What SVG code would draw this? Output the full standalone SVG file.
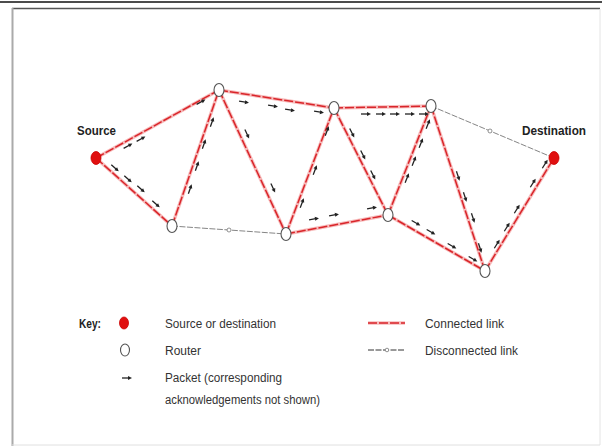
<svg xmlns="http://www.w3.org/2000/svg" width="605" height="448" viewBox="0 0 605 448">
<defs>
<style>
.txt{font-family:"Liberation Sans",Arial,sans-serif;fill:#333;font-size:12px}
.lbl{font-family:"Liberation Sans",Arial,sans-serif;fill:#222;font-size:12.5px;font-weight:bold}
.cbase{stroke:#f7bcbc;stroke-width:3.5;fill:none}
.cdash{stroke:#d9252a;stroke-width:1.5;fill:none;stroke-dasharray:9 2}
.disc{stroke:#777;stroke-width:0.9;fill:none;stroke-dasharray:6 1.5}
.dmark{fill:#fff;stroke:#777;stroke-width:0.8}
.router{fill:#fff;stroke:#555;stroke-width:1.1}
.term{fill:#e01010;stroke:#c00;stroke-width:0.8}
.pkt{stroke:#222;stroke-width:1.3;fill:none}
</style>
<g id="pk"><line class="pkt" x1="-5" y1="0" x2="3" y2="0"/><path d="M5,0 L1,-2 L1,2 Z" fill="#222"/></g>
</defs>
<rect width="605" height="448" fill="#fff"/>
<line x1="0" y1="2" x2="602" y2="2" stroke="#111" stroke-width="1.5"/>
<line x1="12" y1="8.5" x2="600" y2="8.5" stroke="#555" stroke-width="1.5"/>
<line x1="12.5" y1="8" x2="12.5" y2="446" stroke="#aaa" stroke-width="2"/>
<line x1="600" y1="9" x2="600" y2="445" stroke="#e4e4e4" stroke-width="1"/>
<line x1="12" y1="445" x2="600" y2="445" stroke="#e0e0e0" stroke-width="1"/>

<g id="connectors">
<g id="connected">
<path class="cbase" d="M96,158 L219,90 M96,158 L172,226 M172,226 L219,90 M219,90 L334,108 M219,90 L286,234 M286,234 L334,108 M286,234 L388,215 M334,108 L431,106 M334,108 L388,215 M388,215 L431,106 M388,215 L485,271 M431,106 L485,271 M485,271 L554,158"/>
<path class="cdash" d="M96,158 L219,90 M96,158 L172,226 M172,226 L219,90 M219,90 L334,108 M219,90 L286,234 M286,234 L334,108 M286,234 L388,215 M334,108 L431,106 M334,108 L388,215 M388,215 L431,106 M388,215 L485,271 M431,106 L485,271 M485,271 L554,158"/>
</g>
<g id="disconnected">
<path class="disc" d="M172,226 L286,234 M431,106 L554,158"/>
<circle class="dmark" cx="229" cy="230" r="2"/>
<circle class="dmark" cx="490" cy="131" r="2"/>
</g>
<g id="packets">
<use href="#pk" transform="translate(128,146) rotate(-29)"/>
<use href="#pk" transform="translate(141,139) rotate(-29)"/>
<use href="#pk" transform="translate(201,102) rotate(-29)"/>
<use href="#pk" transform="translate(115,168) rotate(42)"/>
<use href="#pk" transform="translate(128,179) rotate(42)"/>
<use href="#pk" transform="translate(141,189) rotate(42)"/>
<use href="#pk" transform="translate(156,204) rotate(42)"/>
<use href="#pk" transform="translate(212,122) rotate(-71)"/>
<use href="#pk" transform="translate(204,144) rotate(-71)"/>
<use href="#pk" transform="translate(197,166) rotate(-71)"/>
<use href="#pk" transform="translate(190,189) rotate(-71)"/>
<use href="#pk" transform="translate(244,102) rotate(9)"/>
<use href="#pk" transform="translate(273,106) rotate(9)"/>
<use href="#pk" transform="translate(290,110) rotate(9)"/>
<use href="#pk" transform="translate(319,112) rotate(9)"/>
<use href="#pk" transform="translate(247,134) rotate(65)"/>
<use href="#pk" transform="translate(273,188) rotate(65)"/>
<use href="#pk" transform="translate(302,203) rotate(-69)"/>
<use href="#pk" transform="translate(315,170) rotate(-69)"/>
<use href="#pk" transform="translate(327,131) rotate(-69)"/>
<use href="#pk" transform="translate(314,219) rotate(-10)"/>
<use href="#pk" transform="translate(334,215) rotate(-10)"/>
<use href="#pk" transform="translate(372,208) rotate(-10)"/>
<use href="#pk" transform="translate(366,114) rotate(0)"/>
<use href="#pk" transform="translate(381,114) rotate(0)"/>
<use href="#pk" transform="translate(395,114) rotate(0)"/>
<use href="#pk" transform="translate(410,114) rotate(0)"/>
<use href="#pk" transform="translate(424,114) rotate(0)"/>
<use href="#pk" transform="translate(352,133) rotate(63)"/>
<use href="#pk" transform="translate(363,155) rotate(63)"/>
<use href="#pk" transform="translate(373,175) rotate(63)"/>
<use href="#pk" transform="translate(428,124) rotate(-68)"/>
<use href="#pk" transform="translate(421,143) rotate(-68)"/>
<use href="#pk" transform="translate(414,161) rotate(-68)"/>
<use href="#pk" transform="translate(407,178) rotate(-68)"/>
<use href="#pk" transform="translate(416,223) rotate(30)"/>
<use href="#pk" transform="translate(431,232) rotate(30)"/>
<use href="#pk" transform="translate(452,246) rotate(30)"/>
<use href="#pk" transform="translate(473,259) rotate(30)"/>
<use href="#pk" transform="translate(458,176) rotate(72)"/>
<use href="#pk" transform="translate(465,197) rotate(72)"/>
<use href="#pk" transform="translate(473,218) rotate(72)"/>
<use href="#pk" transform="translate(480,248) rotate(72)"/>
<use href="#pk" transform="translate(497,244) rotate(-58)"/>
<use href="#pk" transform="translate(507,227) rotate(-58)"/>
<use href="#pk" transform="translate(517,209) rotate(-58)"/>
<use href="#pk" transform="translate(533,183) rotate(-58)"/>
<use href="#pk" transform="translate(545,164) rotate(-58)"/>
</g>
</g>

<g id="source"><ellipse class="term" cx="96" cy="158" rx="5" ry="6.5"/><text class="lbl" x="77" y="135" textLength="39" lengthAdjust="spacingAndGlyphs">Source</text></g>
<g id="r1"><ellipse class="router" cx="172" cy="226" rx="5" ry="6.5"/></g>
<g id="r2"><ellipse class="router" cx="219" cy="90" rx="5" ry="6.5"/></g>
<g id="r3"><ellipse class="router" cx="286" cy="234" rx="5" ry="6.5"/></g>
<g id="r4"><ellipse class="router" cx="334" cy="108" rx="5" ry="6.5"/></g>
<g id="r5"><ellipse class="router" cx="388" cy="215" rx="5" ry="6.5"/></g>
<g id="r6"><ellipse class="router" cx="431" cy="106" rx="5" ry="6.5"/></g>
<g id="r7"><ellipse class="router" cx="485" cy="271" rx="5" ry="6.5"/></g>
<g id="destination"><ellipse class="term" cx="554" cy="158" rx="5" ry="6.5"/><text class="lbl" x="522" y="135" textLength="64" lengthAdjust="spacingAndGlyphs">Destination</text></g>

<g id="key">
<text class="txt" x="79" y="328" textLength="22" lengthAdjust="spacingAndGlyphs" style="fill:#222;font-weight:bold">Key:</text>
<ellipse class="term" cx="124" cy="323" rx="4.5" ry="6"/>
<text class="txt" x="165" y="328" textLength="111" lengthAdjust="spacingAndGlyphs">Source or destination</text>
<ellipse class="router" cx="125" cy="350" rx="4.5" ry="6"/>
<text class="txt" x="165" y="355" textLength="36" lengthAdjust="spacingAndGlyphs">Router</text>
<use href="#pk" transform="translate(127,378)"/>
<text class="txt" x="165" y="382" textLength="117" lengthAdjust="spacingAndGlyphs">Packet (corresponding</text>
<text class="txt" x="165" y="404" textLength="155" lengthAdjust="spacingAndGlyphs">acknowledgements not shown)</text>
<line class="cbase" x1="368" y1="323" x2="405" y2="323"/>
<line class="cdash" x1="368" y1="323" x2="405" y2="323"/>
<text class="txt" x="425" y="328" textLength="79" lengthAdjust="spacingAndGlyphs">Connected link</text>
<line x1="368" y1="350" x2="405" y2="350" stroke="#333" stroke-width="1" stroke-dasharray="6 1.5"/>
<circle class="dmark" cx="387" cy="350" r="1.8"/>
<text class="txt" x="425" y="355" textLength="93" lengthAdjust="spacingAndGlyphs">Disconnected link</text>
</g>
</svg>
